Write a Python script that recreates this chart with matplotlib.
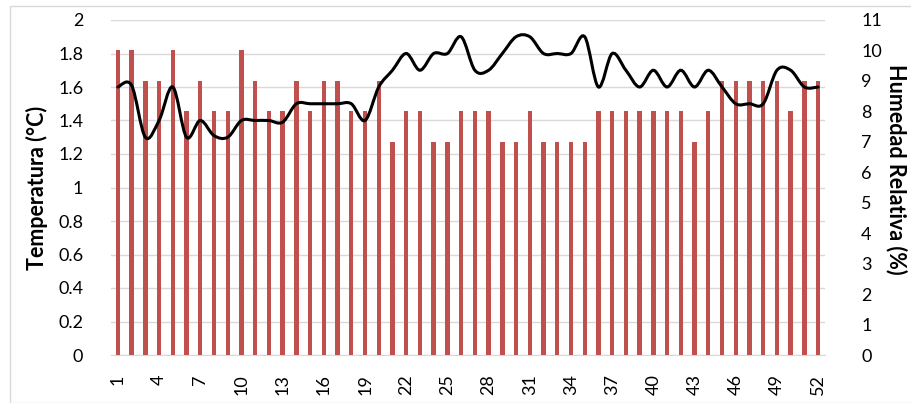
import matplotlib
matplotlib.use("Agg")
import matplotlib.pyplot as plt
from matplotlib.path import Path
from matplotlib.patches import PathPatch, Rectangle
import numpy as np

weeks = list(range(1, 53))
humedad = [10, 10, 9, 9, 10, 8, 9, 8, 8, 10,
           9, 8, 8, 9, 8, 9, 9, 8, 8, 9,
           7, 8, 8, 7, 7, 8, 8, 8, 7, 7,
           8, 7, 7, 7, 7, 8, 8, 8, 8, 8,
           8, 8, 7, 8, 9, 9, 9, 9, 9, 8,
           9, 9]
temperatura = [1.6, 1.61, 1.3, 1.4, 1.6, 1.3, 1.4, 1.31, 1.3, 1.4,
               1.4, 1.4, 1.39, 1.5, 1.5, 1.5, 1.5, 1.5, 1.4, 1.6,
               1.7, 1.8, 1.7, 1.8, 1.8, 1.9, 1.7, 1.7, 1.8, 1.9,
               1.9, 1.8, 1.8, 1.8, 1.9, 1.6, 1.8, 1.7, 1.6, 1.7,
               1.6, 1.7, 1.6, 1.7, 1.6, 1.5, 1.5, 1.5, 1.7, 1.7,
               1.6, 1.6]
xtick_labels = [str(w) for w in weeks]

plt.rcParams['font.family'] = ['Lato', 'DejaVu Sans']

W, H = 912, 403
fig = plt.figure(figsize=(W / 100, H / 100), dpi=100)
fig.patches.append(Rectangle((10 / W, 0), 1.2, 1 - 6 / H, transform=fig.transFigure,
                             fill=False, edgecolor='#D9D9D9', linewidth=1.0))

left, right, top, bottom = 111, 825, 20, 355
ax = fig.add_axes([left / W, 1 - bottom / H, (right - left) / W, (bottom - top) / H])
ax2 = ax.twinx()

x = np.arange(len(weeks))
ax2.bar(x, humedad, width=0.32, color='#C0504D', zorder=2)

# smoothed line (Excel style, Catmull-Rom Bezier through the data points)
pts = np.column_stack([x, temperatura]).astype(float)
n = len(pts)
verts = [tuple(pts[0])]
codes = [Path.MOVETO]
for i in range(n - 1):
    p0 = pts[max(i - 1, 0)]
    p1 = pts[i]
    p2 = pts[i + 1]
    p3 = pts[min(i + 2, n - 1)]
    c1 = p1 + (p2 - p0) / 6.0
    c2 = p2 - (p3 - p1) / 6.0
    verts += [tuple(c1), tuple(c2), tuple(p2)]
    codes += [Path.CURVE4] * 3
patch = PathPatch(Path(verts, codes), transform=ax.transData, fill=False,
                  edgecolor='black', linewidth=2.2, zorder=3, capstyle='round')
ax2.add_patch(patch)

ax.set_xlim(-0.5, len(weeks) - 0.5)
ax.set_ylim(0, 2)
ax2.set_ylim(0, 11)
ax.set_yticks(np.arange(0, 2.01, 0.2))
ax.set_yticklabels(['0', '0.2', '0.4', '0.6', '0.8', '1', '1.2', '1.4', '1.6', '1.8', '2'])
ax2.set_yticks(range(0, 12))
ax.set_xticks(x[::3])
ax.set_xticklabels(xtick_labels[::3], rotation=90)

ax.grid(axis='y', color='#D9D9D9', linewidth=1.0)
ax.set_axisbelow(True)
for a in (ax, ax2):
    for s in a.spines.values():
        s.set_visible(False)
    a.tick_params(length=0, labelsize=13, colors='#000000')
ax.spines['bottom'].set_visible(True)
ax.spines['bottom'].set_color('#D9D9D9')
ax.tick_params(axis='y', pad=20)
ax2.tick_params(axis='y', pad=26)
ax.tick_params(axis='x', pad=14)

fig.text(37 / W, 1 - 188 / H, 'Temperatura (°C)', fontsize=15.5, fontweight='bold',
         rotation=90, ha='center', va='center')
fig.text(896 / W, 1 - 169 / H, 'Humedad Relativa (%)', fontsize=15.5, fontweight='bold',
         rotation=-90, ha='center', va='center')

fig.savefig('out.png', dpi=100)
